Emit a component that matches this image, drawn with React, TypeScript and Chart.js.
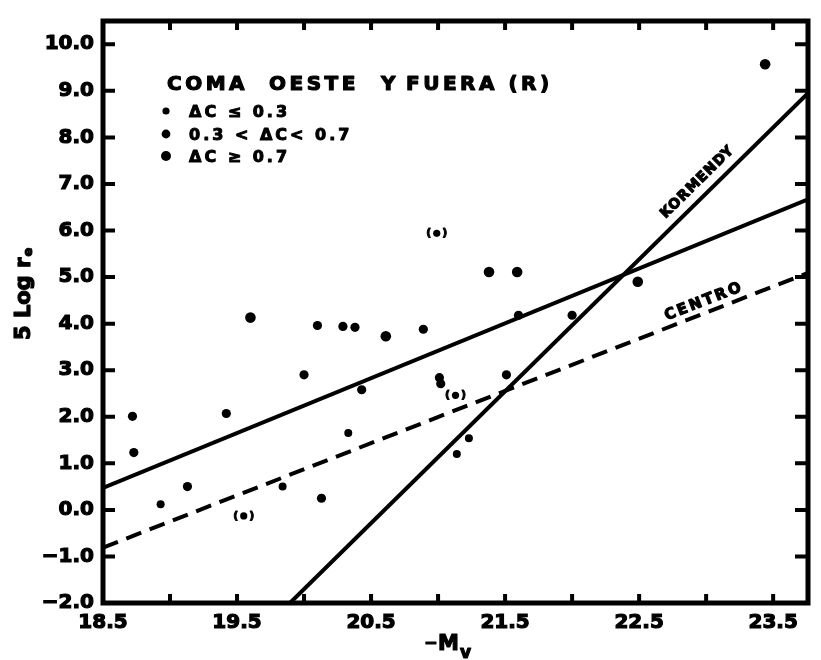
import React, { useEffect, useRef } from 'react';
import { Chart, registerables } from 'chart.js';

Chart.register(...registerables);

// Axis ranges
const xMin = 18.5;
const xMax = 23.76;
const yMin = -2.0;
const yMax = 10.5;

// Ticks
const xTickValues = [18.5, 19.0, 19.5, 20.0, 20.5, 21.0, 21.5, 22.0, 22.5, 23.0, 23.5];
const xTickLabels = ['18.5', '', '19.5', '', '20.5', '', '21.5', '', '22.5', '', '23.5'];
const yTickValues = [-2, -1, 0, 1, 2, 3, 4, 5, 6, 7, 8, 9, 10];
const yTickLabels = ['−2.0', '−1.0', '0.0', '1.0', '2.0', '3.0', '4.0', '5.0', '6.0', '7.0', '8.0', '9.0', '10.0'];

// Galaxies, ΔC ≤ 0.3 (small dots)
const lowMv = [18.93, 19.84, 20.33, 21.14, 21.23];
const lowLogRe = [0.12, 0.5, 1.65, 1.2, 1.54];

// Galaxies, 0.3 < ΔC < 0.7 (medium dots)
const midMv = [18.72, 18.73, 19.13, 19.42, 20.0, 20.1, 20.13, 20.29, 20.38, 20.43, 20.89, 21.01, 21.02, 21.51, 21.6, 22.0];
const midLogRe = [2.01, 1.23, 0.5, 2.07, 2.9, 3.96, 0.25, 3.94, 3.92, 2.58, 3.88, 2.84, 2.71, 2.9, 4.18, 4.18];

// Galaxies, ΔC ≥ 0.7 (large dots)
const highMv = [19.6, 20.61, 21.38, 21.59, 22.49, 23.44];
const highLogRe = [4.13, 3.73, 5.11, 5.11, 4.9, 9.57];

// Uncertain values, shown in parentheses
const bracketMv = [19.55, 20.99, 21.13];
const bracketLogRe = [-0.13, 5.94, 2.46];

// Fitted relations
const fitMv = [18.5, 23.76];
const fitLogRe = [0.47, 6.67];
const centroMv = [18.5, 23.76];
const centroLogRe = [-0.81, 5.09];
const kormendyMv = [19.895, 23.76];
const kormendyLogRe = [-2.0, 8.95];

// Texts
const panelTitleWords = ['COMA', 'OESTE', 'Y', 'FUERA (R)'];
const legendLabels = ['ΔC ≤ 0.3', '0.3 < ΔC< 0.7', 'ΔC ≥ 0.7'];
const xTitleMain = ['−', 'M'];
const xTitleSub = 'v';
const yTitleMain = '5 Log r';
const yTitleSub = 'e';
const kormendyLabel = 'KORMENDY';
const centroLabel = 'CENTRO';

const FONT = "'DejaVu Sans', 'Liberation Sans', sans-serif";

const pts = (xs: number[], ys: number[]) => xs.map((x, i) => ({ x, y: ys[i] }));

const boldText = (ctx: CanvasRenderingContext2D, t: string, x: number, y: number, w = 1) => {
  ctx.lineWidth = w;
  ctx.lineJoin = 'round';
  ctx.strokeText(t, x, y);
  ctx.fillText(t, x, y);
};

const decorPlugin = {
  id: 'decor',
  afterDraw(chart: any) {
    const { ctx, chartArea, scales } = chart;
    const { left, right, top, bottom } = chartArea;
    const xs = scales.x;
    const ys = scales.y;
    ctx.save();
    ctx.strokeStyle = '#000';
    ctx.fillStyle = '#000';
    ctx.lineCap = 'butt';

    // inward ticks
    ctx.lineWidth = 4;
    ctx.beginPath();
    xTickValues.forEach((v) => {
      const px = xs.getPixelForValue(v);
      if (px <= left + 3) return;
      ctx.moveTo(px, bottom);
      ctx.lineTo(px, bottom - 9);
      ctx.moveTo(px, top);
      ctx.lineTo(px, top + 9);
    });
    yTickValues.forEach((v) => {
      const py = ys.getPixelForValue(v);
      if (py >= bottom - 3) return;
      ctx.moveTo(left, py);
      ctx.lineTo(left + 12, py);
      ctx.moveTo(right, py);
      ctx.lineTo(right - 13, py);
    });
    ctx.stroke();

    // frame
    ctx.lineWidth = 5;
    ctx.strokeRect(left, top, right - left, bottom - top);

    // brackets around uncertain points
    const bIdx = chart.data.datasets.findIndex((d: any) => d.label === 'bracket');
    if (bIdx >= 0) {
      const meta = chart.getDatasetMeta(bIdx);
      ctx.font = `bold 11px ${FONT}`;
      ctx.textAlign = 'center';
      ctx.textBaseline = 'middle';
      meta.data.forEach((el: any) => {
        boldText(ctx, '(', el.x - 8, el.y, 1);
        boldText(ctx, ')', el.x + 8, el.y, 1);
      });
    }

    // panel title
    (ctx as any).letterSpacing = '3.5px';
    ctx.font = `bold 20px ${FONT}`;
    ctx.textAlign = 'left';
    ctx.textBaseline = 'alphabetic';
    const titleX = [167, 269, 381, 406];
    panelTitleWords.forEach((w, i) => boldText(ctx, w, titleX[i], 90, 1.2));

    // legend
    (ctx as any).letterSpacing = '3px';
    ctx.font = `bold 16px ${FONT}`;
    const legendY = [117, 140, 162];
    const legendR = [3.6, 4.4, 5.0];
    legendLabels.forEach((t, i) => {
      ctx.beginPath();
      ctx.arc(166, legendY[i] - 6, legendR[i], 0, Math.PI * 2);
      ctx.fill();
      boldText(ctx, t, 189, legendY[i], 1);
    });
    (ctx as any).letterSpacing = '0px';

    // axis titles
    ctx.font = `bold 16px ${FONT}`;
    boldText(ctx, xTitleMain[0], 424, 648, 1.2);
    ctx.font = `bold 21px ${FONT}`;
    boldText(ctx, xTitleMain[1], 438, 650, 1.2);
    const mw = ctx.measureText(xTitleMain[1]).width;
    ctx.font = `bold 17px ${FONT}`;
    boldText(ctx, xTitleSub, 438 + mw + 1, 658, 1.2);

    ctx.save();
    ctx.translate(30, 340);
    ctx.rotate(-Math.PI / 2);
    ctx.font = `bold 21px ${FONT}`;
    ctx.textAlign = 'left';
    boldText(ctx, yTitleMain, 0, 0, 1.2);
    const w = ctx.measureText(yTitleMain).width;
    ctx.font = `bold 13px ${FONT}`;
    boldText(ctx, yTitleSub, w + 1, 2, 1);
    ctx.restore();

    // line labels
    const lineLabel = (mx: number[], my: number[], text: string, atPx: number, off: number, size: number, ls: number) => {
      const x0 = xs.getPixelForValue(mx[0]);
      const y0 = ys.getPixelForValue(my[0]);
      const x1 = xs.getPixelForValue(mx[1]);
      const y1 = ys.getPixelForValue(my[1]);
      const ang = Math.atan2(y1 - y0, x1 - x0);
      const t = (atPx - x0) / (x1 - x0);
      const cx = x0 + t * (x1 - x0) + Math.sin(ang) * off;
      const cy = y0 + t * (y1 - y0) - Math.cos(ang) * off;
      ctx.save();
      ctx.translate(cx, cy);
      ctx.rotate(ang);
      (ctx as any).letterSpacing = `${ls}px`;
      ctx.font = `bold ${size}px ${FONT}`;
      ctx.textAlign = 'center';
      ctx.textBaseline = 'middle';
      boldText(ctx, text, ls / 2, 0, 1.2);
      (ctx as any).letterSpacing = '0px';
      ctx.restore();
    };
    lineLabel(kormendyMv, kormendyLogRe, kormendyLabel, 707, 14, 14, 1);
    lineLabel(centroMv, centroLogRe, centroLabel, 707, 11, 15, 2.5);

    ctx.restore();
  },
};

export default function App() {
  const canvasRef = useRef<HTMLCanvasElement | null>(null);

  useEffect(() => {
    document.body.style.margin = '0';
    const canvas = canvasRef.current;
    if (!canvas) return;

    const lineStyle = (dashed: boolean) => ({
      type: 'line' as const,
      showLine: true,
      borderColor: '#000',
      borderWidth: 4,
      borderDash: dashed ? [16, 9] : [],
      pointRadius: 0,
      fill: false,
      tension: 0,
    });

    const tickFont = { family: FONT, weight: 'bold', size: 20 };

    const chart = new Chart(canvas, {
      type: 'scatter',
      data: {
        datasets: [
          { label: 'fit', data: pts(fitMv, fitLogRe), ...lineStyle(false) },
          { label: 'centro', data: pts(centroMv, centroLogRe), ...lineStyle(true) },
          { label: 'kormendy', data: pts(kormendyMv, kormendyLogRe), ...lineStyle(false) },
          { label: 'low', data: pts(lowMv, lowLogRe), pointRadius: 4.0, backgroundColor: '#000', borderWidth: 0 },
          { label: 'mid', data: pts(midMv, midLogRe), pointRadius: 4.6, backgroundColor: '#000', borderWidth: 0 },
          { label: 'high', data: pts(highMv, highLogRe), pointRadius: 5.3, backgroundColor: '#000', borderWidth: 0 },
          { label: 'bracket', data: pts(bracketMv, bracketLogRe), pointRadius: 3.6, backgroundColor: '#000', borderWidth: 0 },
        ] as any,
      },
      options: {
        animation: false,
        responsive: true,
        maintainAspectRatio: false,
        devicePixelRatio: 1,
        layout: { padding: { left: 0, right: 13, top: 14, bottom: 0 } },
        plugins: {
          legend: { display: false },
          tooltip: { enabled: false },
        },
        scales: {
          x: {
            type: 'linear',
            position: 'bottom',
            min: xMin,
            max: xMax,
            grid: { display: false, drawTicks: false },
            border: { display: false },
            afterBuildTicks: (s: any) => {
              s.ticks = xTickValues.map((value) => ({ value }));
            },
            afterFit: (s: any) => {
              s.height = 57;
            },
            ticks: {
              autoSkip: false,
              maxRotation: 0,
              minRotation: 0,
              padding: 8,
              color: '#000',
              textStrokeColor: '#000',
              textStrokeWidth: 1.2,
              font: tickFont,
              callback: (_v: any, i: number) => xTickLabels[i],
            },
            title: { display: false },
          },
          y: {
            type: 'linear',
            min: yMin,
            max: yMax,
            grid: { display: false, drawTicks: false },
            border: { display: false },
            afterBuildTicks: (s: any) => {
              s.ticks = yTickValues.map((value) => ({ value }));
            },
            afterFit: (s: any) => {
              s.width = 103;
            },
            ticks: {
              padding: 9,
              color: '#000',
              textStrokeColor: '#000',
              textStrokeWidth: 1.2,
              font: tickFont,
              callback: (_v: any, i: number) => yTickLabels[i],
            },
            title: { display: false },
          },
        },
      } as any,
      plugins: [decorPlugin],
    });

    return () => chart.destroy();
  }, []);

  return (
    <div style={{ position: 'relative', width: '821px', height: '660px', background: '#fff' }}>
      <canvas ref={canvasRef} />
    </div>
  );
}
